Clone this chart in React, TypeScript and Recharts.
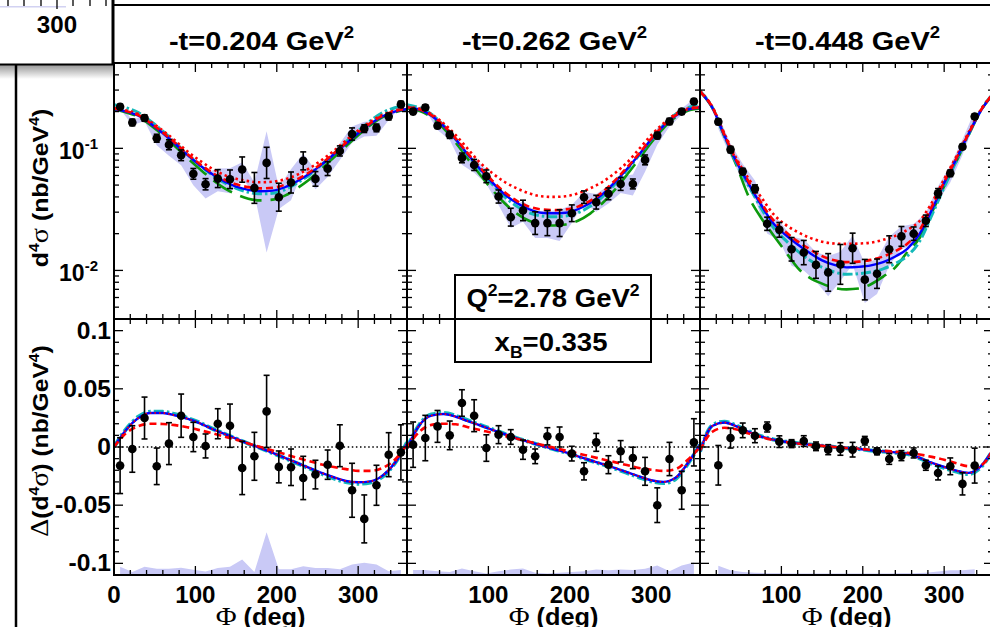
import React from 'react';
import { ComposedChart, Line, Area, Scatter, ErrorBar, XAxis, YAxis, ReferenceLine } from 'recharts';

// ---------- data ----------
const PHI = [0, 15, 30, 45, 60, 75, 90, 105, 120, 135, 150, 165, 180, 195, 210, 225, 240, 255, 270, 285, 300, 315, 330, 345, 360];
const BINS = [7.5, 22.5, 37.5, 52.5, 67.5, 82.5, 97.5, 112.5, 127.5, 142.5, 157.5, 172.5, 187.5, 202.5, 217.5, 232.5, 247.5, 262.5, 277.5, 292.5, 307.5, 322.5, 337.5, 352.5];
const X_TICKS = [0, 20, 40, 60, 80, 100, 120, 140, 160, 180, 200, 220, 240, 260, 280, 300, 320, 340, 360];
const LOG_TICKS = [0.005, 0.006, 0.007, 0.008, 0.009, 0.01, 0.02, 0.03, 0.04, 0.05, 0.06, 0.07, 0.08, 0.09, 0.1, 0.2, 0.3, 0.4];
const LIN_TICKS = [-0.1, -0.09, -0.08, -0.07, -0.06, -0.05, -0.04, -0.03, -0.02, -0.01, 0, 0.01, 0.02, 0.03, 0.04, 0.05, 0.06, 0.07, 0.08, 0.09, 0.1];
const LOG_DOMAIN = [0.004, 0.5];
const LIN_DOMAIN = [-0.11, 0.11];
const T_VALUES = ['0.204', '0.262', '0.448'];
const Q2_TEXT = '2.78';
const XB_TEXT = '0.335';

// top row: cross sections
const T1_Y = [0.219, 0.163, 0.177, 0.121, 0.107, 0.0877, 0.0618, 0.0508, 0.0565, 0.0558, 0.067, 0.0474, 0.076, 0.0398, 0.0525, 0.0789, 0.0562, 0.0682, 0.0952, 0.131, 0.145, 0.147, 0.182, 0.229];
const T1_ERR = [0.011, 0.0106, 0.011, 0.0094, 0.0106, 0.0093, 0.0066, 0.0057, 0.0104, 0.0107, 0.018, 0.016, 0.026, 0.012, 0.0115, 0.0146, 0.0083, 0.0095, 0.0095, 0.016, 0.011, 0.011, 0.012, 0.014];
const T1_SYS = [0.01, 0.008, 0.01, 0.015, 0.02, 0.015, 0.012, 0.012, 0.012, 0.013, 0.01, 0.005, 0.062, 0.008, 0.015, 0.012, 0.01, 0.01, 0.015, 0.02, 0.02, 0.02, 0.012, 0.012];
const T1_BLUE = [0.210, 0.200, 0.185, 0.159, 0.133, 0.109, 0.0883, 0.0731, 0.0618, 0.0537, 0.0486, 0.0457, 0.0445, 0.0450, 0.0480, 0.0537, 0.0618, 0.0735, 0.0890, 0.109, 0.133, 0.159, 0.183, 0.200, 0.210];
const T1_RDOT = [0.214, 0.204, 0.191, 0.165, 0.140, 0.116, 0.0945, 0.0797, 0.0686, 0.0607, 0.0564, 0.0539, 0.0527, 0.0533, 0.0557, 0.0607, 0.0686, 0.0800, 0.0952, 0.116, 0.140, 0.165, 0.188, 0.204, 0.214];
const T1_RDASH = [0.212, 0.202, 0.187, 0.161, 0.135, 0.111, 0.0900, 0.0748, 0.0636, 0.0556, 0.0507, 0.0481, 0.0470, 0.0475, 0.0504, 0.0558, 0.0637, 0.0752, 0.0908, 0.111, 0.135, 0.161, 0.185, 0.202, 0.212];
const T1_CYAN = [0.228, 0.215, 0.196, 0.167, 0.138, 0.112, 0.0895, 0.0730, 0.0610, 0.0525, 0.0470, 0.0437, 0.0424, 0.0428, 0.0458, 0.0520, 0.0605, 0.0735, 0.0900, 0.113, 0.139, 0.168, 0.196, 0.215, 0.228];
const T1_GREEN = [0.208, 0.197, 0.181, 0.155, 0.128, 0.104, 0.0835, 0.0680, 0.0560, 0.0475, 0.0420, 0.0387, 0.0375, 0.0380, 0.0410, 0.0470, 0.0555, 0.0680, 0.0840, 0.104, 0.128, 0.155, 0.180, 0.197, 0.208];

const T2_Y = [0.200, 0.216, 0.153, 0.129, 0.0835, 0.0731, 0.059, 0.0403, 0.0273, 0.031, 0.0244, 0.0244, 0.0244, 0.0294, 0.0398, 0.0362, 0.0424, 0.0511, 0.0511, 0.0804, 0.127, 0.166, 0.200, 0.242];
const T2_ERR = [0.011, 0.011, 0.008, 0.009, 0.008, 0.008, 0.0075, 0.0053, 0.005, 0.0066, 0.0058, 0.0065, 0.007, 0.005, 0.005, 0.005, 0.005, 0.0066, 0.005, 0.0078, 0.008, 0.01, 0.011, 0.013];
const T2_SYS = [0.01, 0.01, 0.012, 0.012, 0.01, 0.01, 0.008, 0.006, 0.005, 0.006, 0.006, 0.006, 0.007, 0.005, 0.004, 0.006, 0.007, 0.008, 0.01, 0.016, 0.02, 0.015, 0.012, 0.012];
const T2_BLUE = [0.215, 0.208, 0.185, 0.152, 0.118, 0.0885, 0.0674, 0.0524, 0.0420, 0.0356, 0.0317, 0.0297, 0.0294, 0.0297, 0.0317, 0.0356, 0.0420, 0.0524, 0.0674, 0.0885, 0.118, 0.152, 0.185, 0.208, 0.215];
const T2_RDOT = [0.218, 0.212, 0.191, 0.160, 0.128, 0.0985, 0.0760, 0.0625, 0.0530, 0.0470, 0.0428, 0.0405, 0.0400, 0.0405, 0.0428, 0.0470, 0.0530, 0.0625, 0.0760, 0.0985, 0.128, 0.160, 0.191, 0.212, 0.218];
const T2_RDASH = [0.216, 0.209, 0.187, 0.154, 0.120, 0.0905, 0.0693, 0.0542, 0.0437, 0.0372, 0.0333, 0.0316, 0.0312, 0.0316, 0.0333, 0.0372, 0.0437, 0.0542, 0.0693, 0.0905, 0.120, 0.154, 0.187, 0.209, 0.216];
const T2_CYAN = [0.228, 0.215, 0.190, 0.154, 0.118, 0.0875, 0.0660, 0.0505, 0.0400, 0.0335, 0.0297, 0.0279, 0.0275, 0.0279, 0.0297, 0.0335, 0.0400, 0.0505, 0.0660, 0.0875, 0.118, 0.154, 0.190, 0.215, 0.228];
const T2_GREEN = [0.212, 0.203, 0.180, 0.146, 0.111, 0.0815, 0.0605, 0.0455, 0.0355, 0.0292, 0.0255, 0.0238, 0.0233, 0.0238, 0.0255, 0.0292, 0.0355, 0.0455, 0.0605, 0.0815, 0.111, 0.146, 0.180, 0.203, 0.212];

const T3_Y = [null, 0.165, 0.0976, 0.0645, 0.0466, 0.0241, 0.0215, 0.0149, 0.0140, 0.0111, 0.00963, 0.0112, 0.0152, 0.0084, 0.0094, 0.0149, 0.019, 0.020, 0.0255, 0.0429, 0.0625, 0.103, 0.182, null];
const T3_ERR = [null, 0.009, 0.006, 0.004, 0.0036, 0.0032, 0.0032, 0.0037, 0.0036, 0.0032, 0.0041, 0.0051, 0.005, 0.0039, 0.003, 0.0043, 0.0039, 0.0027, 0.0029, 0.0039, 0.004, 0.005, 0.009, null];
const T3_SYS = [null, 0.02, 0.012, 0.01, 0.008, 0.004, 0.004, 0.004, 0.004, 0.003, 0.0035, 0.003, 0.004, 0.003, 0.003, 0.004, 0.004, 0.004, 0.004, 0.006, 0.01, 0.015, 0.02, null];
const T3_BLUE = [0.292, 0.216, 0.127, 0.077, 0.051, 0.0345, 0.0243, 0.0196, 0.0163, 0.0139, 0.0121, 0.0111, 0.0106, 0.0107, 0.0110, 0.0117, 0.0130, 0.0151, 0.0200, 0.0315, 0.052, 0.082, 0.131, 0.203, 0.278];
const T3_RDOT = [0.295, 0.220, 0.132, 0.082, 0.056, 0.040, 0.029, 0.0237, 0.0206, 0.0185, 0.0172, 0.0166, 0.0165, 0.0166, 0.0169, 0.0178, 0.0192, 0.0215, 0.0255, 0.036, 0.056, 0.086, 0.135, 0.207, 0.280];
const T3_RDASH = [0.292, 0.218, 0.129, 0.079, 0.053, 0.036, 0.0258, 0.0207, 0.0173, 0.0149, 0.0131, 0.0121, 0.0117, 0.0118, 0.0122, 0.0130, 0.0144, 0.0166, 0.0215, 0.0335, 0.053, 0.083, 0.132, 0.205, 0.278];
const T3_CYAN = [0.295, 0.218, 0.126, 0.075, 0.049, 0.0325, 0.0225, 0.0177, 0.0144, 0.0121, 0.0106, 0.0097, 0.0093, 0.0094, 0.0097, 0.0103, 0.0114, 0.0132, 0.0174, 0.0285, 0.048, 0.079, 0.130, 0.205, 0.280];
const T3_GREEN = [0.292, 0.215, 0.125, 0.072, 0.040, 0.027, 0.0195, 0.0143, 0.0105, 0.0087, 0.0078, 0.0072, 0.0070, 0.0071, 0.0077, 0.0089, 0.0106, 0.0142, 0.0185, 0.030, 0.049, 0.078, 0.128, 0.203, 0.278];

// bottom row: beam-spin differences
const B1_Y = [-0.016, -0.0017, 0.0249, -0.0166, 0.0029, 0.0269, 0.0086, 0.0009, 0.020, 0.0183, -0.018, -0.008, 0.0306, -0.0171, -0.0174, -0.0266, -0.0237, -0.0152, 0.0011, -0.0372, -0.0618, -0.0329, -0.0066, -0.0046];
const B1_ERR = [0.024, 0.020, 0.018, 0.0157, 0.018, 0.0186, 0.0126, 0.0103, 0.0129, 0.0186, 0.0229, 0.0206, 0.031, 0.0137, 0.0157, 0.0186, 0.0123, 0.0126, 0.018, 0.0232, 0.0206, 0.0172, 0.0189, 0.0237];
const B1_SYS = [0.007, 0.0025, 0.007, 0.0053, 0.0053, 0.0062, 0.0045, 0.003, 0.006, 0.007, 0.0133, 0.0025, 0.0368, 0.005, 0.005, 0.0076, 0.006, 0.006, 0.005, 0.009, 0.0105, 0.009, 0.0033, 0.0042];
const B1_BLUE = [0, 0.0149, 0.0249, 0.0292, 0.0292, 0.0272, 0.0243, 0.0206, 0.0157, 0.0114, 0.0072, 0.0029, -0.0009, -0.0051, -0.0094, -0.0137, -0.018, -0.0223, -0.026, -0.0292, -0.0303, -0.0295, -0.0246, -0.0137, 0.003];
const B1_CYAN = [0, 0.0155, 0.026, 0.0302, 0.0302, 0.0282, 0.025, 0.021, 0.016, 0.0116, 0.0073, 0.0029, -0.001, -0.0053, -0.0097, -0.014, -0.0185, -0.023, -0.027, -0.0302, -0.0315, -0.0305, -0.0255, -0.014, 0.004];
const B1_RDASH = [0, 0.012, 0.018, 0.020, 0.0198, 0.0188, 0.017, 0.0145, 0.012, 0.009, 0.0062, 0.003, 0, -0.003, -0.0062, -0.0093, -0.0122, -0.015, -0.0172, -0.019, -0.0205, -0.0205, -0.018, -0.011, 0.002];

const B2_Y = [0.002, 0.0077, 0.0177, 0.010, 0.0378, 0.0269, -0.0009, 0.0106, 0.0086, -0.0023, -0.008, 0.0092, 0.0086, -0.0057, -0.0209, 0.004, -0.0152, -0.0037, -0.0094, -0.0209, -0.050, -0.0103, -0.0372, 0.004];
const B2_ERR = [0.0195, 0.0195, 0.0137, 0.0123, 0.0114, 0.0137, 0.0114, 0.0077, 0.0063, 0.0083, 0.0063, 0.0074, 0.0086, 0.0063, 0.0074, 0.0077, 0.0077, 0.0092, 0.0092, 0.012, 0.0149, 0.0143, 0.0163, 0.0203];
const B2_SYS = [0.0042, 0.0042, 0.0033, 0.0025, 0.0056, 0.0033, 0.0013, 0.0033, 0.0047, 0.0056, 0.0019, 0.0013, 0.0019, 0.0025, 0.0033, 0.0047, 0.004, 0.0047, 0.0042, 0.0053, 0.0082, 0.0033, 0.0082, 0.0108];
const B2_BLUE = [-0.001, 0.0185, 0.027, 0.0283, 0.026, 0.0222, 0.0185, 0.0148, 0.011, 0.0075, 0.0043, 0.0012, -0.0017, -0.0046, -0.008, -0.0114, -0.0146, -0.018, -0.0215, -0.0252, -0.0286, -0.030, -0.0265, -0.014, 0.002];
const B2_CYAN = [-0.001, 0.019, 0.028, 0.0292, 0.0268, 0.0228, 0.019, 0.0152, 0.0113, 0.0077, 0.0044, 0.0012, -0.0018, -0.0048, -0.0082, -0.0117, -0.015, -0.0185, -0.0222, -0.026, -0.0295, -0.031, -0.0275, -0.0145, 0.002];
const B2_RDASH = [-0.001, 0.013, 0.019, 0.020, 0.0195, 0.017, 0.0145, 0.0122, 0.0095, 0.007, 0.0045, 0.002, -0.0005, -0.003, -0.0055, -0.008, -0.0105, -0.013, -0.0155, -0.018, -0.0195, -0.0205, -0.019, -0.011, 0];

const B3_Y = [null, -0.0157, 0.0077, 0.0143, 0.0097, 0.0172, 0.0046, 0.0029, 0.0051, 0.0006, -0.0023, -0.0017, -0.0023, 0.0054, -0.0037, -0.0103, -0.0074, -0.0051, -0.0157, -0.0223, -0.0166, -0.0317, -0.016, null];
const B3_ERR = [null, 0.017, 0.0086, 0.0063, 0.006, 0.0043, 0.005, 0.0034, 0.0046, 0.0037, 0.0043, 0.0054, 0.0063, 0.0037, 0.003, 0.0046, 0.0043, 0.0043, 0.0043, 0.006, 0.0072, 0.0095, 0.015, null];
const B3_SYS = [null, 0.008, 0.004, 0.0025, 0.002, 0.0015, 0.0015, 0.0012, 0.0012, 0.0012, 0.0012, 0.0012, 0.0012, 0.0012, 0.0012, 0.0012, 0.0015, 0.0015, 0.002, 0.003, 0.004, 0.004, 0.005, null];
const B3_BLUE = [-0.0037, 0.018, 0.021, 0.0177, 0.013, 0.009, 0.0063, 0.0045, 0.0032, 0.002, 0.0011, 0, -0.0009, -0.0017, -0.0029, -0.0037, -0.0046, -0.0057, -0.0094, -0.0137, -0.0172, -0.0203, -0.0222, -0.0166, -0.0023];
const B3_CYAN = [-0.004, 0.0185, 0.0218, 0.0183, 0.0135, 0.0093, 0.0065, 0.0046, 0.0033, 0.0021, 0.0011, 0, -0.001, -0.0018, -0.003, -0.0039, -0.0049, -0.006, -0.0098, -0.0143, -0.018, -0.0212, -0.0232, -0.0175, -0.0025];
const B3_RDASH = [-0.003, 0.013, 0.0165, 0.015, 0.0115, 0.0085, 0.006, 0.0043, 0.003, 0.0018, 0.001, 0, -0.0008, -0.0015, -0.0025, -0.0032, -0.004, -0.005, -0.0065, -0.0085, -0.011, -0.014, -0.0165, -0.0155, -0.002];

// ---------- layout ----------
const PX = [114, 407, 700];
const PY = [63, 319];
const PW = 293;
const PH = 256;
const ML = 110, MR = 10, MT = 10, MB = 60;
const AX = 1; // thickness reserved by each (tick-only) axis

const SANS = '"Liberation Sans", Arial, Helvetica, sans-serif';
const SERIF = '"Liberation Serif", "DejaVu Serif", serif';
const BAND = '#c9c9f6';
const BLUE = '#0000ff';
const RED = '#ff0000';
const CYAN = '#14b9b9';
const GREEN = '#0c990c';

const TOP_PANELS = [
  { y: T1_Y, err: T1_ERR, sys: T1_SYS, blue: T1_BLUE, rdot: T1_RDOT, rdash: T1_RDASH, cyan: T1_CYAN, green: T1_GREEN },
  { y: T2_Y, err: T2_ERR, sys: T2_SYS, blue: T2_BLUE, rdot: T2_RDOT, rdash: T2_RDASH, cyan: T2_CYAN, green: T2_GREEN },
  { y: T3_Y, err: T3_ERR, sys: T3_SYS, blue: T3_BLUE, rdot: T3_RDOT, rdash: T3_RDASH, cyan: T3_CYAN, green: T3_GREEN },
];
const BOT_PANELS = [
  { y: B1_Y, err: B1_ERR, sys: B1_SYS, blue: B1_BLUE, rdot: B1_BLUE, rdash: B1_RDASH, cyan: B1_CYAN, green: null },
  { y: B2_Y, err: B2_ERR, sys: B2_SYS, blue: B2_BLUE, rdot: B2_BLUE, rdash: B2_RDASH, cyan: B2_CYAN, green: null },
  { y: B3_Y, err: B3_ERR, sys: B3_SYS, blue: B3_BLUE, rdot: B3_BLUE, rdash: B3_RDASH, cyan: B3_CYAN, green: null },
];

function Txt({ x, y, sx = 1.1, anchor = 'middle', size = 23, rot = 0, children }: any) {
  return (
    <text
      transform={`translate(${x} ${y}) rotate(${rot}) scale(${sx} 1)`}
      textAnchor={anchor}
      fontFamily={SANS}
      fontWeight="bold"
      fontSize={size}
      fill="#000"
    >
      {children}
    </text>
  );
}

const TICK_W = 1.3;

function Panel({ row, col, cfg }: any) {
  const log = row === 0;
  const curve = (arr: number[]) => PHI.map((x, i) => ({ x, y: arr[i] }));
  const pts = BINS.map((x, i) => {
    const v = cfg.y[i];
    if (v == null) return null;
    const e = cfg.err[i];
    return { x, y: v, e: log ? [(v * e) / (v + e), e] : [e, e] };
  }).filter(Boolean);
  const band = BINS.map((x, i) => {
    const v = cfg.y[i];
    if (v == null) return null;
    const s = cfg.sys[i];
    return { x, r: log ? [v - s, v + s] : [LIN_DOMAIN[0], LIN_DOMAIN[0] + s] };
  }).filter(Boolean);

  const isMajorY = (v: number) => (log ? v === 0.01 || v === 0.1 : Math.round(v * 100) % 5 === 0);

  const xBottomTick = (p: any) => {
    const v = p.payload.value;
    const major = v % 100 === 0;
    const showLabel = row === 1 && major && !(col > 0 && v === 0);
    return (
      <g>
        <line x1={p.x} x2={p.x} y1={p.y} y2={p.y - (major ? 9 : 5)} stroke="#000" strokeWidth={TICK_W} />
        {showLabel ? (
          <Txt x={p.x} y={p.y + 28} size={23} sx={1.05}>{String(v)}</Txt>
        ) : null}
      </g>
    );
  };
  const xTopTick = (p: any) => {
    const v = p.payload.value;
    const major = v % 100 === 0;
    return <line x1={p.x} x2={p.x} y1={p.y} y2={p.y + (major ? 9 : 5)} stroke="#000" strokeWidth={TICK_W} />;
  };
  const yLeftTick = (p: any) => {
    const v = p.payload.value;
    const major = isMajorY(v);
    let label: any = null;
    if (col === 0 && major) {
      if (log) {
        label = (
          <Txt x={p.x - 16} y={p.y + 11} size={23} sx={1.0} anchor="end">
            10<tspan dy={-10} fontSize={15}>{v === 0.1 ? '-1' : '-2'}</tspan>
          </Txt>
        );
      } else {
        label = (
          <Txt x={p.x - 3} y={p.y + 8} size={23} sx={1.07} anchor="end">
            {v === 0 ? '0' : String(v)}
          </Txt>
        );
      }
    }
    return (
      <g>
        <line x1={p.x} x2={p.x + (major ? 9 : 5)} y1={p.y} y2={p.y} stroke="#000" strokeWidth={TICK_W} />
        {label}
      </g>
    );
  };
  const yRightTick = (p: any) => {
    const v = p.payload.value;
    const major = isMajorY(v);
    return <line x1={p.x} x2={p.x - (major ? 9 : 5)} y1={p.y} y2={p.y} stroke="#000" strokeWidth={TICK_W} />;
  };

  const yProps: any = log
    ? { scale: 'log', domain: LOG_DOMAIN, ticks: LOG_TICKS }
    : { scale: 'linear', domain: LIN_DOMAIN, ticks: LIN_TICKS };

  const common = { xAxisId: 'b', yAxisId: 'l', isAnimationActive: false, dot: false, activeDot: false, type: 'monotone' as const };

  return (
    <div style={{ position: 'absolute', left: PX[col] - ML - AX, top: PY[row] - MT - AX }}>
      <ComposedChart
        width={PW + ML + MR + 2 * AX}
        height={PH + MT + MB + 2 * AX}
        margin={{ top: MT, right: MR, bottom: MB, left: ML }}
      >
        <XAxis xAxisId="b" dataKey="x" type="number" domain={[0, 360]} ticks={X_TICKS} interval={0}
          allowDataOverflow height={AX} tickSize={0} tickMargin={0} axisLine={false} tickLine={false} tick={xBottomTick} />
        <XAxis xAxisId="t" orientation="top" dataKey="x" type="number" domain={[0, 360]} ticks={X_TICKS} interval={0}
          allowDataOverflow height={AX} tickSize={0} tickMargin={0} axisLine={false} tickLine={false} tick={xTopTick} />
        <YAxis yAxisId="l" type="number" {...yProps} interval={0} allowDataOverflow width={AX}
          tickSize={0} tickMargin={0} axisLine={false} tickLine={false} tick={yLeftTick} />
        <YAxis yAxisId="r" orientation="right" type="number" {...yProps} interval={0} allowDataOverflow width={AX}
          tickSize={0} tickMargin={0} axisLine={false} tickLine={false} tick={yRightTick} />

        <Area data={band} dataKey="r" xAxisId="b" yAxisId="l" type="linear" fill={BAND} fillOpacity={1}
          stroke="none" isAnimationActive={false} dot={false} activeDot={false} />
        {!log ? (
          <ReferenceLine y={0} xAxisId="b" yAxisId="l" stroke="#000" strokeWidth={1.3} strokeDasharray="1.5 2.6" />
        ) : null}
        <Line data={curve(cfg.blue)} dataKey="y" xAxisId="t" yAxisId="r" stroke="none" isAnimationActive={false} dot={false} activeDot={false} />
        {cfg.green ? (
          <Line {...common} data={curve(cfg.green)} dataKey="y" stroke={GREEN} strokeWidth={2.6} strokeDasharray="22 9" />
        ) : null}
        <Line {...common} data={curve(cfg.cyan)} dataKey="y" stroke={CYAN} strokeWidth={log ? 3 : 4} strokeDasharray="10 3 2.5 3" />
        {log ? (
          <Line {...common} data={curve(cfg.rdot)} dataKey="y" stroke={RED} strokeWidth={2.6} strokeDasharray="2.5 3.2" />
        ) : null}
        <Line {...common} data={curve(cfg.blue)} dataKey="y" stroke={BLUE} strokeWidth={2.4} />
        {!log ? (
          <Line {...common} data={curve(cfg.rdot)} dataKey="y" stroke={RED} strokeWidth={1.6} strokeDasharray="1.6 3" />
        ) : null}
        <Line {...common} data={curve(cfg.rdash)} dataKey="y" stroke={RED} strokeWidth={2.6} strokeDasharray="7 4" />
        <Scatter data={pts} dataKey="y" xAxisId="b" yAxisId="l" isAnimationActive={false}
          shape={(p: any) => <circle cx={p.cx} cy={p.cy} r={4.3} fill="#000" />}>
          <ErrorBar dataKey="e" direction="y" width={3} stroke="#000" strokeWidth={1.6} isAnimationActive={false} />
        </Scatter>
      </ComposedChart>
    </div>
  );
}

function Overlay() {
  const boxTicks = [8, 24, 41, 57, 73, 90, 106];
  return (
    <svg width={990} height={627} style={{ position: 'absolute', left: 0, top: 0 }}>
      <defs>
        <linearGradient id="shadow" x1="0" y1="0" x2="0" y2="1">
          <stop offset="0" stopColor="#000" stopOpacity={0.4} />
          <stop offset="1" stopColor="#000" stopOpacity={0} />
        </linearGradient>
      </defs>
      {/* outer frame of the enclosing figure */}
      <line x1={16} y1={64} x2={16} y2={627} stroke="#000" strokeWidth={2.5} />
      <rect x={0} y={65} width={113} height={14} fill="url(#shadow)" />
      {/* clipped inset box at top-left */}
      <rect x={-5} y={-5} width={117.5} height={69.5} fill="#fff" stroke="#000" strokeWidth={2} />
      <rect x={0} y={6} width={66} height={1.5} fill="#d2d2f2" />
      {boxTicks.map((tx) => (
        <line key={tx} x1={tx} x2={tx} y1={0} y2={tx === 57 ? 9 : 6} stroke="#000" strokeWidth={1.3} />
      ))}
      <Txt x={57} y={33} size={23} sx={1.05}>300</Txt>

      {/* header */}
      <line x1={113} y1={5} x2={990} y2={5} stroke="#000" strokeWidth={2} />
      <line x1={113.5} y1={0} x2={113.5} y2={64} stroke="#000" strokeWidth={2} />
      {T_VALUES.map((t, i) => (
        <Txt key={t} x={PX[i] + PW / 2 + 1} y={50} size={25} sx={1.16}>
          -t={t} GeV<tspan dy={-12} fontSize={16}>2</tspan>
        </Txt>
      ))}

      {/* kinematics box */}
      <rect x={455} y={275} width={196} height={87} fill="#fff" stroke="#000" strokeWidth={2} />
      <Txt x={553} y={307} size={25} sx={1.1}>
        Q<tspan dy={-11} fontSize={16}>2</tspan>
        <tspan dy={11}>={Q2_TEXT} GeV</tspan>
        <tspan dy={-11} fontSize={16}>2</tspan>
      </Txt>
      <Txt x={551} y={351} size={25} sx={1.1}>
        x<tspan dy={7} fontSize={16}>B</tspan>
        <tspan dy={-7}>={XB_TEXT}</tspan>
      </Txt>

      {/* panel frames */}
      {PY.map((py) =>
        PX.map((px) => (
          <rect key={`${px}-${py}`} x={px} y={py} width={PW} height={PH} fill="none" stroke="#000" strokeWidth={2} />
        ))
      )}
      <line x1={113} y1={63} x2={990} y2={63} stroke="#000" strokeWidth={2} />

      {/* axis titles */}
      <Txt x={48} y={188} rot={-90} size={22} sx={1.13}>
        d<tspan dy={-9} fontSize={14}>4</tspan>
        <tspan dy={9} fontFamily={SERIF} fontWeight="normal" fontSize={25}>σ</tspan> (nb/GeV
        <tspan dy={-9} fontSize={14}>4</tspan>
        <tspan dy={9}>)</tspan>
      </Txt>
      <Txt x={48} y={441} rot={-90} size={22} sx={1.12}>
        <tspan fontFamily={SERIF} fontWeight="normal" fontSize={25}>Δ</tspan>(d
        <tspan dy={-9} fontSize={14}>4</tspan>
        <tspan dy={9} fontFamily={SERIF} fontWeight="normal" fontSize={25}>σ</tspan>) (nb/GeV
        <tspan dy={-9} fontSize={14}>4</tspan>
        <tspan dy={9}>)</tspan>
      </Txt>
      {PX.map((px) => (
        <Txt key={px} x={px + PW / 2} y={625} size={23} sx={1.1}>
          <tspan fontFamily={SERIF} fontWeight="normal" fontSize={26}>Φ</tspan> (deg)
        </Txt>
      ))}
    </svg>
  );
}

export default function App() {
  return (
    <div
      style={{
        position: 'absolute',
        left: 0,
        top: 0,
        width: 990,
        height: 627,
        overflow: 'hidden',
        background: '#fff',
        fontFamily: SANS,
      }}
    >
      {TOP_PANELS.map((cfg, c) => (
        <Panel key={`t${c}`} row={0} col={c} cfg={cfg} />
      ))}
      {BOT_PANELS.map((cfg, c) => (
        <Panel key={`b${c}`} row={1} col={c} cfg={cfg} />
      ))}
      <Overlay />
    </div>
  );
}
